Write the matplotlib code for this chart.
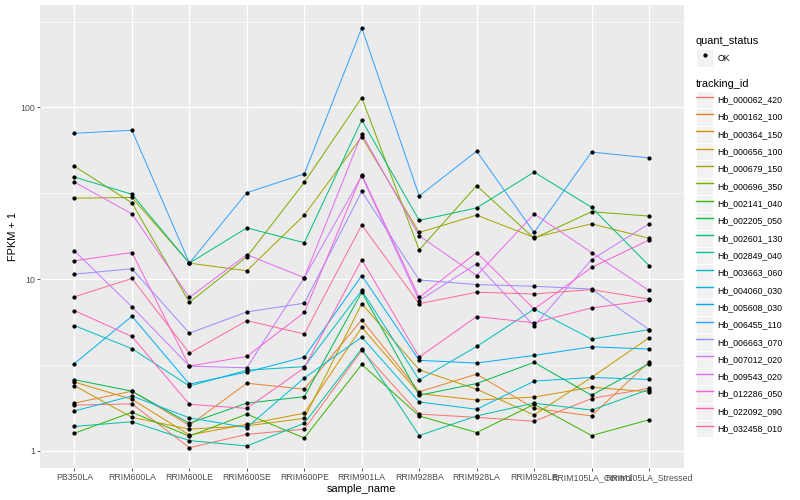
import numpy as np
import matplotlib
matplotlib.use("Agg")
import matplotlib.pyplot as plt
from matplotlib.lines import Line2D
from matplotlib.patches import Rectangle
from matplotlib.legend_handler import HandlerTuple

plt.rcParams['font.family'] = ['Liberation Sans', 'DejaVu Sans']

samples = ["PB350LA", "RRIM600LA", "RRIM600LE", "RRIM600SE", "RRIM600PE", "RRIM901LA",
           "RRIM928BA", "RRIM928LA", "RRIM928LE", "RRIM105LA_Control", "RRIM105LA_Stressed"]

tracking_ids = ["Hb_000062_420", "Hb_000162_100", "Hb_000364_150", "Hb_000656_100",
                "Hb_000679_150", "Hb_000696_350", "Hb_002141_040", "Hb_002205_050",
                "Hb_002601_130", "Hb_002849_040", "Hb_003663_060", "Hb_004060_030",
                "Hb_005608_030", "Hb_006455_110", "Hb_006663_070", "Hb_007012_020",
                "Hb_009543_020", "Hb_012286_050", "Hb_022092_090", "Hb_032458_010"]

# FPKM + 1
hb_000062_420 = [1.85, 1.88, 1.045, 1.25, 1.34, 3.85, 1.64, 1.57, 1.49, 2.02, 2.32]
hb_000162_100 = [1.9, 2.23, 1.41, 2.48, 2.29, 5.8, 2.21, 2.8, 1.77, 1.6, 3.3]
hb_000364_150 = [2.52, 2.0, 1.24, 1.43, 1.66, 5.25, 2.16, 1.98, 2.06, 2.35, 2.21]
hb_000656_100 = [2.4, 1.57, 1.34, 1.40, 1.55, 7.2, 2.97, 2.29, 1.62, 2.68, 4.56]
hb_000679_150 = [29.6, 29.9, 12.4, 11.2, 23.6, 67.5, 18.7, 23.6, 17.5, 21, 17.3]
hb_000696_350 = [45.4, 27.8, 7.33, 13.5, 36.6, 114, 14.8, 35, 17.3, 24.7, 23.3]
hb_002141_040 = [1.27, 1.68, 1.22, 1.64, 1.19, 3.19, 1.6, 1.28, 1.87, 1.23, 1.52]
hb_002205_050 = [2.6, 2.23, 1.45, 1.9, 2.07, 8.4, 2.11, 2.47, 3.28, 2.11, 3.22]
hb_002601_130 = [39.3, 31.2, 12.4, 19.9, 16.3, 84.3, 22, 26, 42, 26.2, 12.0]
hb_002849_040 = [1.39, 1.48, 1.15, 1.07, 1.45, 3.94, 1.23, 1.6, 1.9, 1.73, 2.28]
hb_003663_060 = [5.37, 3.94, 2.39, 2.95, 3.1, 8.6, 2.59, 4.06, 6.7, 4.48, 5.09]
hb_004060_030 = [1.71, 2.09, 1.56, 1.37, 2.66, 4.6, 1.93, 1.75, 2.55, 2.68, 2.61]
hb_005608_030 = [3.23, 6.09, 2.45, 2.88, 3.52, 10.5, 3.37, 3.25, 3.6, 4.04, 3.92]
hb_006455_110 = [70.7, 73.6, 12.4, 31.9, 41, 290, 30.5, 55.6, 18.7, 55, 50.8]
hb_006663_070 = [10.7, 11.5, 4.85, 6.45, 7.25, 32.4, 9.9, 9.3, 9.1, 8.76, 5.09]
hb_007012_020 = [14.6, 6.9, 3.12, 3.05, 10.2, 39.9, 7.5, 12.3, 5.33, 13.0, 21]
hb_009543_020 = [36.7, 24.0, 7.83, 13.9, 10.2, 70, 17.9, 10.5, 24, 14.3, 8.6]
hb_012286_050 = [12.8, 14.3, 3.12, 3.55, 6.4, 40.6, 7.83, 14.3, 6.7, 11.7, 16.9]
hb_022092_090 = [6.56, 4.64, 1.87, 1.77, 3.05, 13.0, 3.52, 6.06, 5.58, 6.8, 7.54]
hb_032458_010 = [7.9, 10.1, 3.71, 5.74, 4.8, 20.7, 7.2, 8.4, 8.2, 8.7, 7.66]

series = [hb_000062_420, hb_000162_100, hb_000364_150, hb_000656_100, hb_000679_150,
          hb_000696_350, hb_002141_040, hb_002205_050, hb_002601_130, hb_002849_040,
          hb_003663_060, hb_004060_030, hb_005608_030, hb_006455_110, hb_006663_070,
          hb_007012_020, hb_009543_020, hb_012286_050, hb_022092_090, hb_032458_010]

# ggplot hue palette
colors = ["#F8766D", "#EA8331", "#D89000", "#C09B00", "#A3A500", "#7CAE00", "#39B600",
          "#00BB4E", "#00BF7D", "#00C1A3", "#00BFC4", "#00BAE0", "#00B0F6", "#35A2FF",
          "#9590FF", "#C77CFF", "#E76BF3", "#FA62DB", "#FF62BC", "#FF6C91"]

fig = plt.figure(figsize=(800 / 72, 500 / 72), dpi=72)
ax = fig.add_axes([40 / 800, 1 - 468.3 / 500, 643.5 / 800, 463.3 / 500])
ax.set_facecolor("#EBEBEB")

x = np.arange(1, len(samples) + 1)
for vals, c in zip(series, colors):
    ax.plot(x, vals, color=c, lw=1.0, zorder=2)
for vals in series:
    ax.plot(x, vals, ls="none", marker="o", ms=3.2, color="black", zorder=3)

ax.set_yscale("log")
ax.set_ylim(0.793, 394.5)
ax.set_xlim(0.4, len(samples) + 0.6)
ax.set_yticks([1, 10, 100])
ax.set_yticklabels(["1", "10", "100"])
ax.set_yticks([10 ** 0.5, 10 ** 1.5, 10 ** 2.5], minor=True)
ax.yaxis.set_minor_formatter(matplotlib.ticker.NullFormatter())
ax.set_xticks(x)
ax.set_xticklabels(samples)

ax.grid(True, which="major", color="white", lw=1.2, zorder=0)
ax.grid(True, which="minor", axis="y", color="white", lw=0.6, zorder=0)
ax.set_axisbelow(True)
for s in ax.spines.values():
    s.set_visible(False)
ax.tick_params(which="major", length=2.75, width=0.8, color="#333333",
               labelsize=8.8, labelcolor="#4D4D4D", pad=2)
ax.tick_params(which="minor", length=0)

ax.set_xlabel("sample_name", fontsize=11, labelpad=2)
ax.set_ylabel("FPKM + 1", fontsize=11, labelpad=2)

key_bg = dict(facecolor="#F2F2F2", edgecolor="white", lw=1.0)
common = dict(handler_map={tuple: HandlerTuple(ndivide=1)}, loc="upper left",
              bbox_transform=fig.transFigure, frameon=False, fontsize=8.8,
              title_fontsize=11, alignment="left", handlelength=1.97,
              handleheight=2.65, handletextpad=0.45, labelspacing=0.0,
              borderpad=0, borderaxespad=0)

# quant_status legend
ok_handle = (Rectangle((0, 0), 1, 1, **key_bg),
             Line2D([], [], ls="none", marker="o", ms=3.2, color="black"))
leg1 = ax.legend([ok_handle], ["OK"], title="quant_status",
                 bbox_to_anchor=(696 / 800, 1 - 35.5 / 500), **common)
leg1._legend_box.sep = 4
ax.add_artist(leg1)

# tracking_id legend
handles = [(Rectangle((0, 0), 1, 1, **key_bg), Line2D([], [], color=c, lw=1.4))
           for c in colors]
leg2 = ax.legend(handles, tracking_ids, title="tracking_id",
                 bbox_to_anchor=(696 / 800, 1 - 79 / 500), **common)
leg2._legend_box.sep = 2

fig.savefig("out.png", dpi=72)
